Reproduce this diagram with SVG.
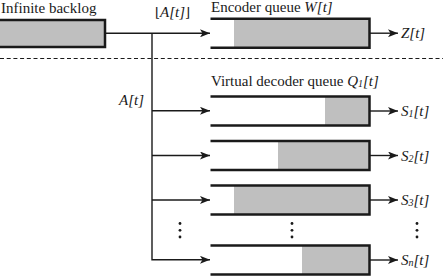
<svg xmlns="http://www.w3.org/2000/svg" width="443" height="276" viewBox="0 0 443 276">
<style>
text{font-family:"Liberation Serif","Times New Roman",serif;font-size:15px;fill:#1a1a1a}
.it{font-style:italic}
.up{font-style:normal;font-family:"DejaVu Serif",serif;font-size:13px}
.sub{font-size:10px}
.q{fill:none;stroke:#1a1a1a;stroke-width:2.5}
.fill{fill:#bfbfbf}
.c{fill:none;stroke:#1a1a1a;stroke-width:1.4}
.dot{fill:#1a1a1a}
</style>
<defs>
<marker id="ah" viewBox="0 0 10 8" refX="10" refY="4" markerWidth="10" markerHeight="8" markerUnits="userSpaceOnUse" orient="auto">
<path d="M0,0 L10,4 L0,8 L2.5,4 z" fill="#1a1a1a"/>
</marker>
</defs>
<rect width="443" height="276" fill="#fff"/>
<line x1="0" y1="58.5" x2="443" y2="58.5" stroke="#1a1a1a" stroke-width="1" stroke-dasharray="4 2.7"/>

<g id="backlog">
<rect x="-5" y="20" width="110" height="27" class="fill" stroke="#1a1a1a" stroke-width="2.5"/>
<text x="1" y="13">Infinite backlog</text>
</g>

<g id="encoder">
<rect x="234" y="18.7" width="135.5" height="29" class="fill"/>
<path class="q" d="M210.5,18.7 H369.5 V47.7 H210.5"/>
<text x="211" y="11.5">Encoder queue <tspan class="it">W[t]</tspan></text>
</g>

<g id="q1">
<rect x="325" y="96.5" width="44.5" height="29" class="fill"/>
<path class="q" d="M210.5,96.5 H369.5 V125.5 H210.5"/>
<text x="211" y="86">Virtual decoder queue <tspan class="it">Q<tspan class="sub" dy="1">1</tspan><tspan dy="-1">[t]</tspan></tspan></text>
</g>

<g id="q2">
<rect x="278" y="141" width="91.5" height="29" class="fill"/>
<path class="q" d="M210.5,141 H369.5 V170 H210.5"/>
</g>

<g id="q3">
<rect x="234" y="185.5" width="135.5" height="29" class="fill"/>
<path class="q" d="M210.5,185.5 H369.5 V214.5 H210.5"/>
</g>

<g id="qn">
<rect x="302" y="245.5" width="67.5" height="29" class="fill"/>
<path class="q" d="M210.5,245.5 H369.5 V274.5 H210.5"/>
</g>

<g id="connectors">
<line class="c" x1="106" y1="33.3" x2="210" y2="33.3" marker-end="url(#ah)"/>
<path class="c" d="M152,33.3 V259.8 H210" marker-end="url(#ah)"/>
<line class="c" x1="152" y1="110.8" x2="210" y2="110.8" marker-end="url(#ah)"/>
<line class="c" x1="152" y1="155.5" x2="210" y2="155.5" marker-end="url(#ah)"/>
<line class="c" x1="152" y1="200" x2="210" y2="200" marker-end="url(#ah)"/>
<line class="c" x1="370" y1="33.2" x2="398" y2="33.2" marker-end="url(#ah)"/>
<line class="c" x1="370" y1="111" x2="398" y2="111" marker-end="url(#ah)"/>
<line class="c" x1="370" y1="155.5" x2="398" y2="155.5" marker-end="url(#ah)"/>
<line class="c" x1="370" y1="200" x2="398" y2="200" marker-end="url(#ah)"/>
<line class="c" x1="370" y1="260" x2="398" y2="260" marker-end="url(#ah)"/>
</g>

<g id="labels">
<text x="155" y="17"><tspan class="up">⌊</tspan><tspan class="it">A[t]</tspan><tspan class="up">⌋</tspan></text>
<text x="119" y="105" class="it">A[t]</text>
<text x="401" y="38" class="it">Z[t]</text>
<text x="401" y="116" class="it">S<tspan class="sub" dy="1">1</tspan><tspan dy="-1">[t]</tspan></text>
<text x="401" y="160.5" class="it">S<tspan class="sub" dy="1">2</tspan><tspan dy="-1">[t]</tspan></text>
<text x="401" y="205" class="it">S<tspan class="sub" dy="1">3</tspan><tspan dy="-1">[t]</tspan></text>
<text x="401" y="265" class="it">S<tspan class="sub" dy="1">n</tspan><tspan dy="-1">[t]</tspan></text>
</g>

<g id="dots">
<circle class="dot" cx="180" cy="223.5" r="1.4"/>
<circle class="dot" cx="180" cy="230.3" r="1.4"/>
<circle class="dot" cx="180" cy="237" r="1.4"/>
<circle class="dot" cx="292" cy="223.5" r="1.4"/>
<circle class="dot" cx="292" cy="230.3" r="1.4"/>
<circle class="dot" cx="292" cy="237" r="1.4"/>
<circle class="dot" cx="417" cy="223.5" r="1.4"/>
<circle class="dot" cx="417" cy="230.3" r="1.4"/>
<circle class="dot" cx="417" cy="237" r="1.4"/>
</g>
</svg>
